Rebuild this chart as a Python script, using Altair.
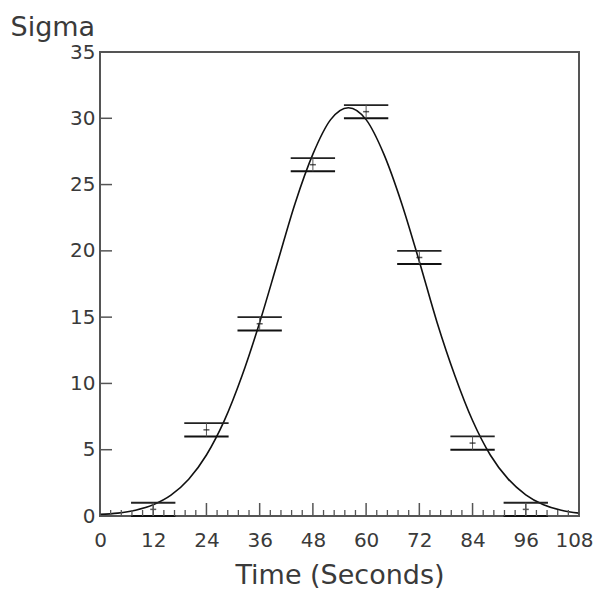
import altair as alt
import pandas as pd

# measured points
pt_x = [12, 24, 36, 48, 60, 72, 84, 96]
pt_y = [0.5, 6.5, 14.5, 26.5, 30.5, 19.5, 5.5, 0.5]
pt_lo = [0, 6, 14, 26, 30, 19, 5, 0]
pt_hi = [1, 7, 15, 27, 31, 20, 6, 1]

# fitted curve
curve_x = [0, 4, 8, 12, 16, 20, 24, 28, 32, 36, 40, 44, 48, 52, 56,
           60, 64, 68, 72, 76, 80, 84, 88, 92, 96, 100, 104, 108]
curve_y = [0.12, 0.22, 0.44, 0.85, 1.57, 2.77, 4.6, 7.17, 10.56, 14.6, 19.1, 23.6, 27.3, 29.9, 30.8,
           29.9, 27.3, 23.6, 19.2, 14.6, 10.6, 7.2, 4.6, 2.8, 1.6, 0.85, 0.44, 0.22]

x_major = [0, 12, 24, 36, 48, 60, 72, 84, 96, 108]
x_minor = [round(i * 2.4, 1) for i in range(46) if i % 5 != 0]
y_major = [0, 5, 10, 15, 20, 25, 30, 35]

W, H = 479, 464
FONT = "DejaVu Sans"
TXT = "#3a3a3a"
AX = "#555555"

pts = pd.DataFrame({"x": pt_x, "y": pt_y, "lo": pt_lo, "hi": pt_hi})
curve = pd.DataFrame({"x": curve_x, "y": curve_y})

xs = alt.Scale(domain=[0, 108], nice=False, zero=False)
ys = alt.Scale(domain=[0, 35], nice=False, zero=False)

xaxis = alt.Axis(values=x_major, ticks=False, domain=False, grid=False,
                 labelFont=FONT, labelFontSize=20, labelColor=TXT, labelPadding=14,
                 labelOverlap=False, labelFlush=False,
                 labelOffset={"condition": {"test": "datum.value == 108", "value": -5}, "value": 0},
                 title="Time (Seconds)", titleFont=FONT, titleFontSize=27,
                 titleFontWeight="normal", titleColor=TXT,
                 titleBaseline="alphabetic", titleY=67)
yaxis = alt.Axis(values=y_major, ticks=False, domain=False, grid=False,
                 labelFont=FONT, labelFontSize=20, labelColor=TXT, labelPadding=5,
                 labelOverlap=False, labelFlush=False, labelBaseline="middle",
                 title="Sigma", titleFont=FONT, titleFontSize=27,
                 titleFontWeight="normal", titleColor=TXT, titleAngle=0,
                 titleAlign="left", titleBaseline="alphabetic", titleX=-90, titleY=-17)

line = alt.Chart(curve).mark_line(color="#111111", strokeWidth=1.6,
                                  interpolate="monotone").encode(
    x=alt.X("x:Q", scale=xs, axis=xaxis),
    y=alt.Y("y:Q", scale=ys, axis=yaxis),
)

base = alt.Chart(pts).transform_calculate(x0="datum.x - 5", x1="datum.x + 5")

lo_lines = base.mark_rule(color="#111111", strokeWidth=2).encode(
    x=alt.X("x0:Q", scale=xs), x2="x1:Q", y=alt.Y("lo:Q", scale=ys))
hi_lines = base.mark_rule(color="#222222", strokeWidth=1.8).encode(
    x=alt.X("x0:Q", scale=xs), x2="x1:Q", y=alt.Y("hi:Q", scale=ys))
vbar = alt.Chart(pts).mark_rule(color="#555555", strokeWidth=1).encode(
    x=alt.X("x:Q", scale=xs), y=alt.Y("lo:Q", scale=ys), y2="hi:Q")
marker = alt.Chart(pts).mark_tick(color="#111111", orient="horizontal",
                                  size=6, thickness=1.5).encode(
    x=alt.X("x:Q", scale=xs), y=alt.Y("y:Q", scale=ys))

yt = alt.Chart(pd.DataFrame({"v": y_major})).mark_rule(color=AX, strokeWidth=1.5).encode(
    y=alt.Y("v:Q", scale=ys), x=alt.value(0), x2=alt.value(12))
xt_major = alt.Chart(pd.DataFrame({"v": x_major})).mark_rule(color=AX, strokeWidth=1.5).encode(
    x=alt.X("v:Q", scale=xs), y=alt.value(H), y2=alt.value(H - 13))
xt_minor = alt.Chart(pd.DataFrame({"v": x_minor})).mark_rule(color=AX, strokeWidth=1.3).encode(
    x=alt.X("v:Q", scale=xs), y=alt.value(H), y2=alt.value(H - 6))

chart = alt.layer(line, lo_lines, hi_lines, vbar, marker, yt, xt_major, xt_minor).properties(
    width=W, height=H,
    autosize=alt.AutoSizeParams(type="none"),
    padding={"left": 92, "top": 44, "right": 15, "bottom": 74},
).configure(background="white").configure_view(stroke=AX, strokeWidth=2)

chart.save("out.html", embed_options={"renderer": "svg", "actions": False})
